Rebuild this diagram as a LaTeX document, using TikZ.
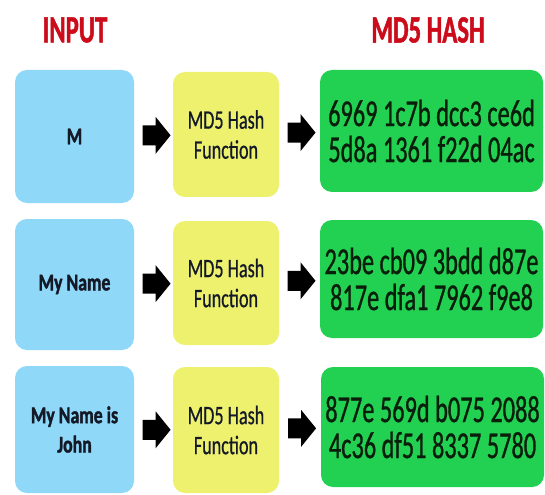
\documentclass[tikz,border=0pt]{standalone}
\usepackage{fontspec}
\newfontfamily\titlefnt{Carlito Bold}[FakeStretch=0.64,FakeBold=1.2]
\newfontfamily\labelfnt{Carlito Bold}[FakeStretch=0.74,FakeBold=1.5]
\newfontfamily\funcfnt{Carlito}[FakeStretch=0.68,FakeBold=0.6]
\newfontfamily\hashfnt{Carlito}[FakeStretch=0.64,FakeBold=0.8]
\definecolor{inblue}{RGB}{143,216,248}
\definecolor{fnyellow}{RGB}{238,241,110}
\definecolor{hashgreen}{RGB}{34,208,82}
\definecolor{titlered}{RGB}{204,12,26}
\definecolor{txtdark}{RGB}{20,25,40}
\definecolor{hashtxt}{RGB}{10,30,12}
\begin{document}
\begin{tikzpicture}[x=0.75pt,y=-0.75pt,
  box/.style={rounded corners=9pt, inner sep=0pt, align=center},
  inbox/.style={box, fill=inblue, minimum width=119*0.75pt,
    font=\labelfnt\fontsize{18}{22}\selectfont, text=txtdark},
  fnbox/.style={box, fill=fnyellow, minimum width=106*0.75pt,
    font=\funcfnt\fontsize{20}{22.5}\selectfont, text=txtdark},
  hashbox/.style={box, fill=hashgreen, minimum width=223*0.75pt,
    font=\hashfnt\fontsize{28.5}{27}\selectfont, text=hashtxt},
  title/.style={font=\titlefnt\fontsize{29}{30}\selectfont, text=titlered},
  barrow/.pic={\fill[black] (-14,-10) -- (-1,-10) -- (-1,-18.5) -- (14,0)
      -- (-1,18.5) -- (-1,10) -- (-14,10) -- cycle;}
]
\useasboundingbox (0,0) rectangle (545,495);
\fill[white] (0,0) rectangle (545,495);

\node[title] (tin) at (75,30) {INPUT};
\node[title] (thash) at (428,30) {MD5 HASH};

% row 1
\node[inbox, minimum height=133*0.75pt] (b1) at (74.5,136.5) {M};
\node[fnbox, minimum height=125*0.75pt] (y1) at (226,134.5) {MD5 Hash\\Function};
\node[hashbox, minimum height=122*0.75pt] (g1) at (431.5,131) {6969 1c7b dcc3 ce6d\\5d8a 1361 f22d 04ac};

% row 2
\node[inbox, minimum height=131*0.75pt] (b2) at (74.5,284.5) {My Name};
\node[fnbox, minimum height=124*0.75pt] (y2) at (226,283) {MD5 Hash\\Function};
\node[hashbox, minimum height=118*0.75pt] (g2) at (431.5,279) {23be cb09 3bdd d87e\\817e dfa1 7962 f9e8};

% row 3
\node[inbox, minimum height=127*0.75pt] (b3) at (74.5,429.5) {My Name is\\John};
\node[fnbox, minimum height=126*0.75pt] (y3) at (226,430) {MD5 Hash\\Function};
\node[hashbox, minimum height=120*0.75pt] (g3) at (432.5,427) {877e 569d b075 2088\\4c36 df51 8337 5780};

% arrows
\path (b1.east) -- (y1.west) coordinate[pos=0.58] (a1);
\path (y1.east) -- (g1.west) coordinate[pos=0.55] (a2);
\path (b2.east) -- (y2.west) coordinate[pos=0.58] (a3);
\path (y2.east) -- (g2.west) coordinate[pos=0.55] (a4);
\path (b3.east) -- (y3.west) coordinate[pos=0.58] (a5);
\path (y3.east) -- (g3.west) coordinate[pos=0.55] (a6);
\foreach \a in {a1,a2,a3,a4,a5,a6} \pic at (\a) {barrow};
\end{tikzpicture}
\end{document}
